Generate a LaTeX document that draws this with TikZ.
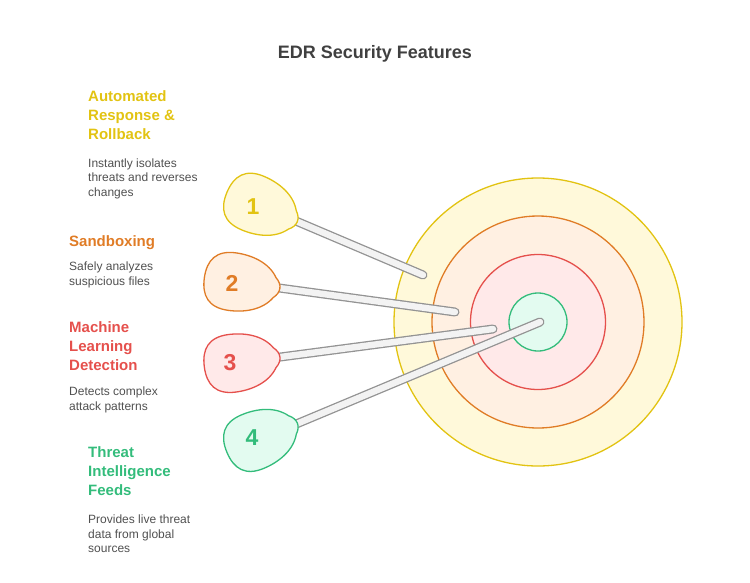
\documentclass[tikz,border=0pt]{standalone}
\usepackage{fontspec}
\setmainfont{Liberation Sans}
\definecolor{ylS}{HTML}{E2C312}
\definecolor{ylF}{HTML}{FFF9DA}
\definecolor{orS}{HTML}{E07C26}
\definecolor{orF}{HTML}{FFF0E2}
\definecolor{rdS}{HTML}{E5504C}
\definecolor{rdF}{HTML}{FFE9E9}
\definecolor{gnS}{HTML}{33BC7B}
\definecolor{gnF}{HTML}{E3FBF0}
\definecolor{txt}{HTML}{505050}
\definecolor{ttl}{HTML}{404040}
\definecolor{stkS}{HTML}{939393}
\definecolor{stkF}{HTML}{F3F3F3}
\tikzset{
  ring/.style={circle, inner sep=0, line width=1.3pt},
  heading/.style={anchor=north west, inner sep=0, align=left, font=\fontsize{15}{19}\selectfont\bfseries},
  desc/.style={anchor=north west, inner sep=0, align=left, text=txt, font=\fontsize{12}{14.5}\selectfont},
  num/.style={inner sep=0, font=\fontsize{23}{23}\selectfont\bfseries},
  stickout/.style={line width=9pt, line cap=round, draw=stkS},
  stickin/.style={line width=6.4pt, line cap=round, draw=stkF},
  pickline/.style={line width=1.3pt}
}
\newcommand{\pickpath}{(33,-10) .. controls (24,-24) and (6,-29) .. (-10,-29) .. controls (-30,-29) and (-38,-18) .. (-38,0) .. controls (-38,18) and (-30,29) .. (-10,29) .. controls (6,29) and (24,24) .. (33,10) .. controls (40,4) and (40,-4) .. (33,-10) -- cycle}
\begin{document}
\begin{tikzpicture}[x=1pt,y=-1pt]
\useasboundingbox (0,0) rectangle (750,582);
% title
\node[inner sep=0, text=ttl, font=\fontsize{18}{18}\selectfont\bfseries] (title) at (375,54) {EDR Security Features};
% target rings
\node[ring, minimum size=288pt, draw=ylS, fill=ylF] (r1) at (538,322) {};
\node[ring, minimum size=212pt, draw=orS, fill=orF] (r2) at (538,322) {};
\node[ring, minimum size=135pt, draw=rdS, fill=rdF] (r3) at (538,322) {};
\node[ring, minimum size=58pt, draw=gnS, fill=gnF] (r4) at (538,322) {};
% stick coordinates
\coordinate (s1) at (270,210);
\coordinate (e1) at (423,275);
\coordinate (s2) at (250,284);
\coordinate (e2) at (455,312);
\coordinate (s3) at (250,361);
\coordinate (e3) at (493,329);
\coordinate (s4) at (270,435);
\coordinate (e4) at (540,322);
% sticks
\foreach \i in {1,2,3,4}{
  \draw[stickout] (s\i) -- (e\i);
  \draw[stickin] (s\i) -- (e\i);
}
% picks
\begin{scope}[shift={(262,207)}, rotate=-23]
  \filldraw[pickline, draw=ylS, fill=ylF] \pickpath;
\end{scope}
\begin{scope}[shift={(242,283)}, rotate=-8]
  \filldraw[pickline, draw=orS, fill=orF] \pickpath;
\end{scope}
\begin{scope}[shift={(242,362)}, rotate=7.5]
  \filldraw[pickline, draw=rdS, fill=rdF] \pickpath;
\end{scope}
\begin{scope}[shift={(262,437.7)}, rotate=22.7]
  \filldraw[pickline, draw=gnS, fill=gnF] \pickpath;
\end{scope}
% numbers
\node[num, text=ylS] (n1) at (253,207) {1};
\node[num, text=orS] (n2) at (232,283) {2};
\node[num, text=rdS] (n3) at (230,363) {3};
\node[num, text=gnS] (n4) at (252,438) {4};
% labels
\node[heading, text=ylS] (h1) at (88,90) {Automated\\Response \&\\Rollback};
\node[desc] (d1) at (88,158.5) {Instantly isolates\\threats and reverses\\changes};
\node[heading, text=orS] (h2) at (69,235) {Sandboxing};
\node[desc] (d2) at (69,262) {Safely analyzes\\suspicious files};
\node[heading, text=rdS] (h3) at (69,321.5) {Machine\\Learning\\Detection};
\node[desc] (d3) at (69,387) {Detects complex\\attack patterns};
\node[heading, text=gnS] (h4) at (88,446) {Threat\\Intelligence\\Feeds};
\node[desc] (d4) at (88,515) {Provides live threat\\data from global\\sources};
\end{tikzpicture}
\end{document}
